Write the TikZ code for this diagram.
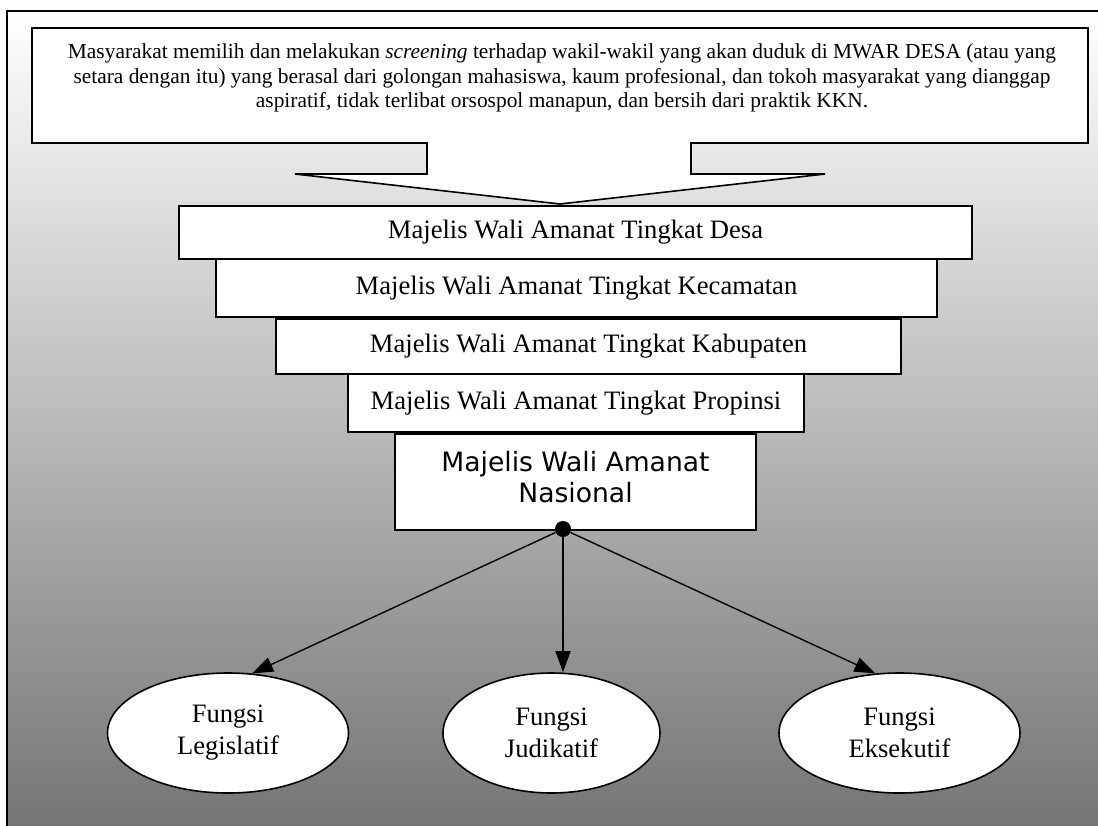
\documentclass[tikz,border=0pt]{standalone}
\usepackage{fontspec}
\setmainfont{Liberation Serif}
\newfontfamily\nasfont{DejaVu Sans}
\usetikzlibrary{shapes.geometric,arrows.meta}
\definecolor{bgmid}{gray}{0.76}
\definecolor{bgbot}{gray}{0.45}

\begin{document}
\begin{tikzpicture}[x=1pt,y=-1pt,
        level/.style={draw,fill=white,line width=1.6pt,inner sep=0pt,font=\fontsize{26.6}{32}\selectfont},
        fungsi/.style={ellipse,draw,fill=white,line width=1.6pt,inner sep=0pt,minimum width=241pt,minimum height=120pt,align=center,font=\fontsize{26.6}{32}\selectfont},
        panah/.style={line width=1.4pt,-{Triangle[length=21pt,width=15pt]}}]
        \useasboundingbox (0,0) rectangle (1098,825);
        \clip (0,0) rectangle (1098,825);
        %% Background and frame
        \shade[top color=white,middle color=bgmid,bottom color=bgbot] (7,11) rectangle (1110,840);
        \draw[line width=2pt] (7,11) rectangle (1110,840);
        %% Callout at the top
        \draw[line width=1.6pt,fill=white] (32,28) -- (1088,28) -- (1088,143) -- (691,143) -- (691,174)
            -- (825,174) -- (560,204) -- (295,174) -- (427,174) -- (427,143) -- (32,143) -- cycle;
        \node[align=center,font=\fontsize{21.4}{24.5}\selectfont] (seleksi) at (562,78)
            {Masyarakat memilih dan melakukan \textit{screening} terhadap wakil-wakil yang akan duduk di MWAR DESA (atau yang\\
             setara dengan itu) yang berasal dari golongan mahasiswa, kaum profesional, dan tokoh masyarakat yang dianggap\\
             aspiratif, tidak terlibat orsospol manapun, dan bersih dari praktik KKN.};
        %% Levels
        \node[level,minimum width=793pt,minimum height=53pt] (desa) at (575.5,232.5) {Majelis Wali Amanat Tingkat Desa};
        \node[level,minimum width=721pt,minimum height=58pt] (kecamatan) at (576.5,288) {Majelis Wali Amanat Tingkat Kecamatan};
        \node[level,minimum width=625pt,minimum height=55pt] (kabupaten) at (588.5,346.5) {Majelis Wali Amanat Tingkat Kabupaten};
        \node[level,minimum width=456pt,minimum height=58pt] (propinsi) at (576,403) {Majelis Wali Amanat Tingkat Propinsi};
        \node[level,minimum width=361pt,minimum height=96pt,align=center,font=\nasfont\fontsize{26.6}{31}\selectfont] (nasional) at (575.5,482)
            {Majelis Wali Amanat\\Nasional\\[-21pt]};
        %% Functions
        \node[fungsi] (legislatif) at (228,733) {Fungsi\\Legislatif};
        \node[fungsi,minimum width=217pt] (judikatif) at (551.5,733) {Fungsi\\Judikatif};
        \node[fungsi] (eksekutif) at (899.5,733) {Fungsi\\Eksekutif};
        \node[circle,fill=black,inner sep=0pt,minimum size=16pt] (hub) at (563,529) {};
        \draw[panah] (hub) -- (legislatif.68);
        \draw[panah] (hub) -- (hub |- judikatif.north);
        \draw[panah] (hub) -- (eksekutif.112);
    \end{tikzpicture}
\end{document}
